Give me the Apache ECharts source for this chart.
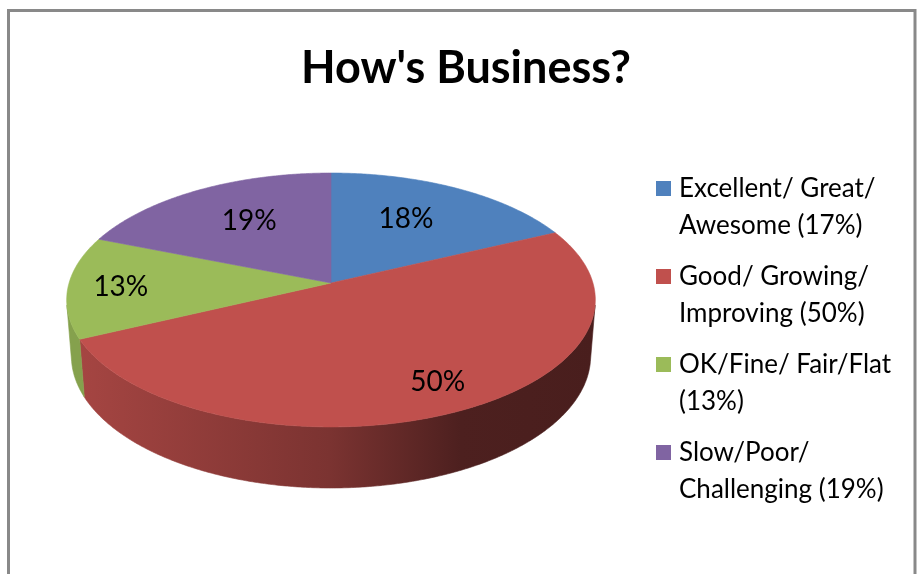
<!DOCTYPE html>
<html>
<head>
<meta charset="utf-8">
<script src="https://cdn.jsdelivr.net/npm/echarts@6/dist/echarts.min.js"></script>
<style>
html,body{margin:0;padding:0;background:#fff;}
#chart{width:919px;height:574px;}
</style>
</head>
<body>
<div id="chart"></div>
<script>
// ---- data ----
const categories = [
  'Excellent/ Great/\nAwesome (17%)',
  'Good/ Growing/\nImproving (50%)',
  'OK/Fine/ Fair/Flat\n(13%)',
  'Slow/Poor/\nChallenging (19%)'
];
const values = [18, 50, 13, 19];
const colors = ['#4F81BD', '#C0504D', '#9BBB59', '#8064A2'];
const titleText = "How's Business?";

// ---- 3D projection layout (style, not data) ----
const cx = 331, cy = 283, focal = 1721, dist = 6.57;
const sinP = 0.476, cosP = 0.879, depth = 0.2455;
const labelRadius = [0.6, 0.8, 0.8, 0.6];
const labelNudge = [[-4, -5], [8, -1], [0, 1], [1, -4]];

function proj(theta, r, y) {
  const X = r * Math.sin(theta), Z = r * Math.cos(theta);
  const yc = y * cosP + Z * sinP;
  const zc = dist + Z * cosP - y * sinP;
  return [cx + focal * X / zc, cy - focal * yc / zc];
}
function shade(hex, k) {
  const n = parseInt(hex.slice(1), 16);
  const r = Math.round(((n >> 16) & 255) * k), g = Math.round(((n >> 8) & 255) * k), b = Math.round((n & 255) * k);
  return 'rgb(' + r + ',' + g + ',' + b + ')';
}
const total = values.reduce((a, b) => a + b, 0);
const starts = [];
let acc = 0;
values.forEach(v => { starts.push(acc); acc += v; });
const visLimit = Math.acos(-1 / (dist * cosP)); // silhouette angle

function renderItem(params, api) {
  const i = params.dataIndex;
  const a0 = starts[i] / total * Math.PI * 2;
  const a1 = (starts[i] + values[i]) / total * Math.PI * 2;
  const step = Math.PI / 360;
  const children = [];
  // outer wall (visible part)
  const w0 = Math.max(a0, visLimit), w1 = Math.min(a1, Math.PI * 2 - visLimit);
  if (w1 > w0) {
    const pts = [];
    for (let t = w0; t < w1; t += step) pts.push(proj(t, 1, 0));
    pts.push(proj(w1, 1, 0));
    const bottom = [];
    for (let t = w0; t < w1; t += step) bottom.push(proj(t, 1, -depth));
    bottom.push(proj(w1, 1, -depth));
    bottom.reverse().forEach(p => pts.push(p));
    const c = colors[i];
    const grad = {
      type: 'linear', x: 80, y: 0, x2: 595, y2: 0, global: true,
      colorStops: [
        { offset: 0, color: shade(c, 0.86) },
        { offset: 0.485, color: shade(c, 0.64) },
        { offset: 0.74, color: shade(c, 0.40) },
        { offset: 1, color: shade(c, 0.38) }
      ]
    };
    children.push({ type: 'polygon', z2: 1, shape: { points: pts }, style: { fill: grad, stroke: grad, lineWidth: 0.6 } });
  }
  // top face
  const top = [proj(0, 0, 0)];
  for (let t = a0; t < a1; t += step) top.push(proj(t, 1, 0));
  top.push(proj(a1, 1, 0));
  children.push({ type: 'polygon', z2: 5, shape: { points: top }, style: { fill: colors[i], stroke: colors[i], lineWidth: 0.6 } });
  // label
  const mid = (a0 + a1) / 2;
  const lp = proj(mid, labelRadius[i], 0);
  children.push({
    type: 'text', z2: 10, x: lp[0] + labelNudge[i][0], y: lp[1] + labelNudge[i][1],
    style: {
      text: Math.round(values[i] / total * 100) + '%',
      fill: '#000', font: '28px Lato', align: 'center', verticalAlign: 'middle'
    }
  });
  return { type: 'group', children: children };
}

const chart = echarts.init(document.getElementById('chart'), null, { renderer: 'canvas' });
chart.setOption({
  backgroundColor: '#fff',
  animation: false,
  color: colors,
  title: {
    text: titleText,
    left: 301,
    top: 41,
    padding: 0,
    textStyle: { fontFamily: 'Lato', fontWeight: 'bold', fontSize: 45, color: '#000', lineHeight: 54 }
  },
  legend: {
    orient: 'vertical',
    left: 656,
    top: 170,
    padding: 0,
    itemGap: 14,
    itemWidth: 15,
    itemHeight: 52,
    icon: 'path://M0,0H15V15H0Z M0,51.9L0.01,52',
    itemStyle: { borderWidth: 0 },
    selectedMode: false,
    data: categories,
    textStyle: { fontFamily: 'Lato', fontSize: 26, color: '#000', lineHeight: 37, padding: [0, 0, 0, 3] }
  },
  graphic: [{
    type: 'rect', silent: true, z: -1,
    shape: { x: 8.5, y: 10.5, width: 906.5, height: 620 },
    style: { fill: null, stroke: '#898989', lineWidth: 3 }
  }],
  series: [
    {
      type: 'pie', name: 'legend', radius: [0, 0], silent: true,
      label: { show: false }, labelLine: { show: false },
      emphasis: { disabled: true },
      data: categories.map((n, i) => ({ name: n, value: values[i] }))
    },
    {
      type: 'custom', name: titleText, coordinateSystem: 'none', silent: true,
      data: values.map((v, i) => [i, v]),
      renderItem: renderItem
    }
  ]
});
</script>
</body>
</html>
